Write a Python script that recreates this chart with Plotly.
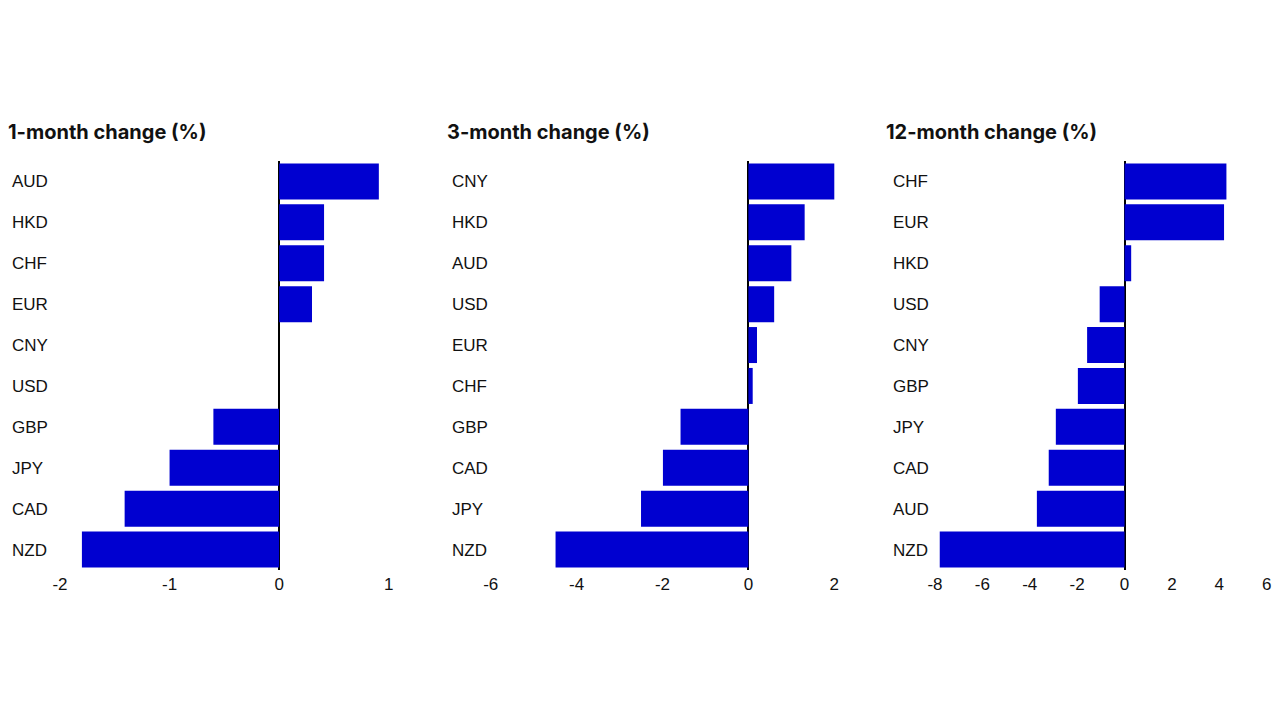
import plotly.graph_objects as go

titles = ["1-month change (%)", "3-month change (%)", "12-month change (%)"]

cats_1m = ["AUD", "HKD", "CHF", "EUR", "CNY", "USD", "GBP", "JPY", "CAD", "NZD"]
vals_1m = [0.91, 0.41, 0.41, 0.30, 0.0, 0.0, -0.60, -1.00, -1.41, -1.80]

cats_3m = ["CNY", "HKD", "AUD", "USD", "EUR", "CHF", "GBP", "CAD", "JPY", "NZD"]
vals_3m = [2.0, 1.31, 1.0, 0.6, 0.2, 0.1, -1.58, -1.99, -2.5, -4.49]

cats_12m = ["CHF", "EUR", "HKD", "USD", "CNY", "GBP", "JPY", "CAD", "AUD", "NZD"]
vals_12m = [4.3, 4.2, 0.28, -1.05, -1.58, -1.97, -2.9, -3.2, -3.7, -7.8]

ticks_1m = [-2, -1, 0, 1]
ticks_3m = [-6, -4, -2, 0, 2]
ticks_12m = [-8, -6, -4, -2, 0, 2, 4, 6]

BAR = "#0000d0"
W, H = 1280, 720


def fx(p):
    return min(1.0, p / W)


def fy(p):
    return 1 - p / H


# per panel: categories, values, ticks, (left px, right px),
# (tick a, px of a), (tick b, px of b), title x px
panels = [
    (cats_1m, vals_1m, ticks_1m, (9, 392), (-2, 60), (1, 388.7), 5.5),
    (cats_3m, vals_3m, ticks_3m, (449, 838), (-6, 490.7), (2, 834.3), 445),
    (cats_12m, vals_12m, ticks_12m, (890, 1272), (-8, 935), (6, 1266.7), 884),
]

fig = go.Figure()
ydom = [fy(570), fy(161)]
layout = dict(
    width=W, height=H, margin=dict(l=0, r=0, t=0, b=0),
    paper_bgcolor="white", plot_bgcolor="white", showlegend=False,
    bargap=0.12,
    font=dict(family="Liberation Sans, Arial, sans-serif", size=17, color="#111111"),
)
annotations = []
for i, (cats, vals, ticks, (L, R), (a, pa), (b, pb), tx) in enumerate(panels):
    sfx = "" if i == 0 else str(i + 1)
    upp = (b - a) / (pb - pa)
    rng = [a + (L - pa) * upp, a + (R - pa) * upp]
    fig.add_trace(go.Bar(
        x=vals, y=cats, orientation="h", marker=dict(color=BAR, line=dict(width=0)),
        xaxis="x" + sfx, yaxis="y" + sfx, hoverinfo="x+y",
    ))
    layout["xaxis" + sfx] = dict(
        domain=[fx(L), fx(R)], range=rng, tickvals=ticks,
        ticktext=[str(t) for t in ticks],
        showgrid=False, zeroline=True, zerolinecolor="#000000", zerolinewidth=2,
        showline=False, ticks="", anchor="y" + sfx, ticklabelstandoff=2,
        tickfont=dict(size=17, color="#111111"),
    )
    layout["yaxis" + sfx] = dict(
        domain=ydom, range=[9.5, -0.5], type="category",
        categoryorder="array", categoryarray=cats,
        showgrid=False, zeroline=False, showline=False, ticks="",
        ticklabelposition="inside", anchor="x" + sfx,
        tickfont=dict(size=17, color="#111111"),
    )
    annotations.append(dict(
        text="<b>" + titles[i] + "</b>", x=fx(tx), y=fy(132),
        xref="paper", yref="paper", xanchor="left", yanchor="middle",
        showarrow=False, font=dict(family="Inter, Roboto, sans-serif", size=20, color="#111111"),
    ))
layout["annotations"] = annotations
fig.update_layout(**layout)
fig.write_html(
    "out.html",
    config={"displayModeBar": False},
    post_script="document.body.style.margin='0';document.body.style.overflow='hidden';",
)
